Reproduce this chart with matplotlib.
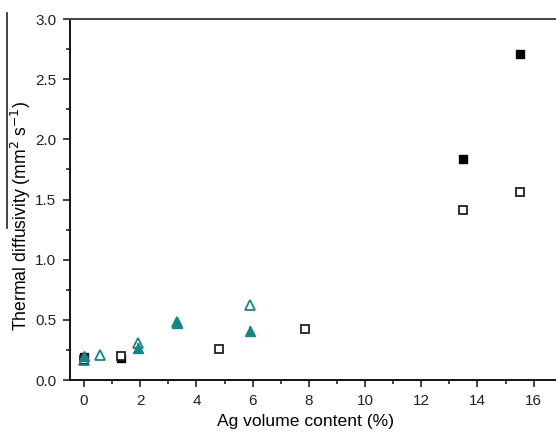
import matplotlib
matplotlib.use("Agg")
import matplotlib.pyplot as plt
from matplotlib.lines import Line2D
from matplotlib.ticker import MultipleLocator

plt.rcParams['font.family'] = ['Liberation Sans', 'DejaVu Sans']

# filled black squares
fsq_x = [0.0, 1.3, 13.5, 15.5]
fsq_y = [0.19, 0.18, 1.84, 2.71]
# open black squares
osq_x = [0.0, 1.3, 4.8, 7.85, 13.5, 15.5]
osq_y = [0.17, 0.20, 0.26, 0.42, 1.41, 1.56]
# open teal triangles
otr_x = [0.0, 0.55, 1.93, 3.3, 5.9]
otr_y = [0.17, 0.21, 0.31, 0.48, 0.62]
# filled teal triangles (with error bars)
ftr_x = [0.0, 1.93, 3.3, 5.9]
ftr_y = [0.20, 0.265, 0.47, 0.41]
ftr_err = [0.03, 0.04, 0.02, 0.04]

teal = '#168585'

fig = plt.figure(figsize=(5.56, 4.34), dpi=100)
ax = fig.add_axes([0.1259, 0.1244, 0.8845, 0.8318])

ax.plot(fsq_x, fsq_y, 's', color='black', ms=6.3, ls='none', zorder=3)
ax.plot(osq_x, osq_y, 's', mfc='white', mec='#222222', mew=1.3, ms=6, ls='none', zorder=4)
ax.errorbar(ftr_x, ftr_y, yerr=ftr_err, fmt='^', color=teal, ms=6.5,
            elinewidth=1.2, capsize=0, zorder=5)
ax.plot(otr_x, otr_y, '^', mfc='none', mec=teal, mew=1.3, ms=7.5, ls='none', zorder=6)

ax.set_xlim(-0.5, 17)
ax.set_ylim(0, 3.0)
ax.xaxis.set_major_locator(MultipleLocator(2))
ax.xaxis.set_minor_locator(MultipleLocator(1))
ax.yaxis.set_major_locator(MultipleLocator(0.5))
ax.yaxis.set_minor_locator(MultipleLocator(0.25))
ax.yaxis.set_major_formatter(plt.FormatStrFormatter('%.1f'))
ax.tick_params(which='both', direction='out', top=False, right=False,
               width=1.2, labelsize=11, colors='#222222')
ax.tick_params(which='major', length=5, pad=5)
ax.tick_params(which='minor', length=3)
for side in ['left', 'bottom']:
    ax.spines[side].set_linewidth(1.4)
    ax.spines[side].set_color('#111111')
ax.spines['top'].set_linewidth(1.4)
ax.spines['top'].set_color('#444444')
ax.spines['right'].set_visible(False)

ax.set_xlabel('Ag volume content (%)', fontsize=12.6)
ax.set_ylabel('Thermal diffusivity (mm$^{2}$ s$^{-1}$)', fontsize=12.7)
ax.xaxis.set_label_coords(0.48, -0.095)
ax.yaxis.set_label_coords(-0.0996, 0.454)
ax.yaxis.label.set_va('center')
ax.xaxis.label.set_va('top')

# stray line left of the y label
fig.add_artist(Line2D([7 / 556, 7 / 556], [1 - 13 / 434, 1 - 228 / 434],
                      transform=fig.transFigure, color='#222222', lw=1.2))

fig.savefig('out.png', dpi=100)
